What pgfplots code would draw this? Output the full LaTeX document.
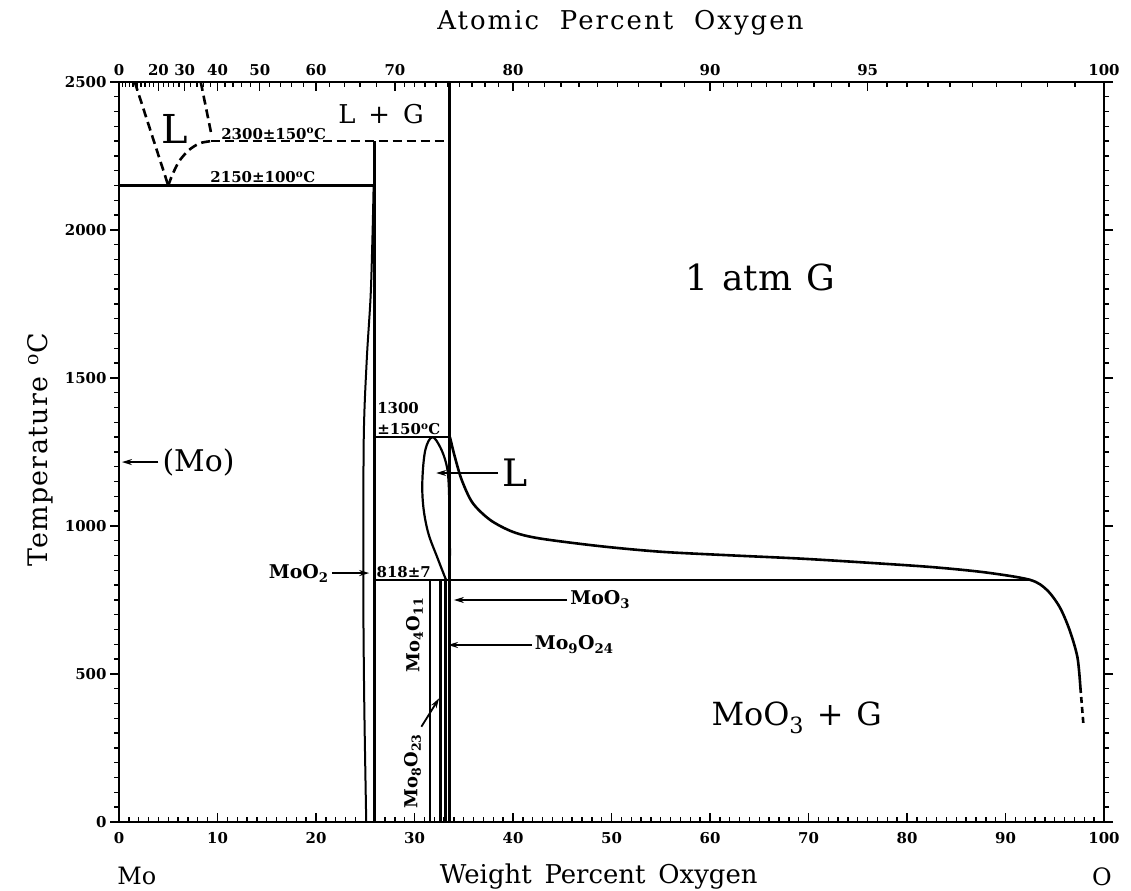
\documentclass[border=0pt]{standalone}
\usepackage{fontspec}
\setmainfont{DejaVu Serif}
\usepackage{pgfplots}
\pgfplotsset{compat=1.18}
\usetikzlibrary{arrows.meta}

\newcommand\fs[1]{\fontsize{#1}{#1}\selectfont}
\tikzset{arr/.style={-{Stealth[length=10bp,width=6bp]}, line width=1.8bp}}

\begin{document}
\begin{tikzpicture}
\pgfplotsset{
  every axis/.append style={
    scale only axis, width=985bp, height=740bp,
    xmin=0, xmax=100, ymin=0, ymax=2500,
    axis line style={line width=2.2bp},
    every tick/.style={black, line width=1.4bp},
    /pgf/number format/assume math mode=true,
    /pgf/number format/1000 sep={},
    clip=false,
  },
  ph/.style={black, line width=2.6bp, no markers},
  dsh/.style={dash pattern=on 9bp off 5bp},
}

% main axis: data, bottom ticks (weight percent)
\begin{axis}[
  xtick={0,10,...,100}, minor x tick num=9,
  xtick pos=left, ytick=\empty,
  tick align=inside,
  major tick length=9bp, minor tick length=5bp,
  xticklabel style={font=\fs{15}\bfseries, yshift=-7bp},
]
% Mo side
\addplot[ph] coordinates {(0,2150)(25.8,2150)};
\addplot[ph, dsh] coordinates {(1.6,2500)(5.0,2150)};
\addplot[ph, dsh, smooth] coordinates {(5.0,2150)(5.4,2185)(6.1,2232)(7.1,2270)(8.2,2293)(9.3,2300)};
\addplot[ph, dsh] coordinates {(8.3,2500)(9.4,2320)};
\addplot[ph, dsh] coordinates {(9.3,2300)(33.6,2300)};
% MoO2
\addplot[ph, line width=3bp] coordinates {(25.9,0)(25.9,2300)};
\addplot[ph, line width=2bp, smooth] coordinates {(25.1,0)(24.9,400)(24.8,800)(24.85,1300)(25.15,1560)(25.55,1780)(25.75,2000)(25.85,2150)};
% MoO3 and box
\addplot[ph, line width=3bp] coordinates {(33.6,0)(33.6,2500)};
\addplot[ph, line width=2bp] coordinates {(25.9,1300)(33.6,1300)};
\addplot[ph, line width=2.2bp] coordinates {(25.9,818)(92.5,818)};
% liquid loop
\addplot[ph, line width=2.2bp, smooth, tension=0.6] coordinates {
  (33.2,818)(32.3,895)(31.4,976)(30.9,1064)(30.8,1155)(31.1,1257)(31.8,1300)
  (32.6,1267)(33.2,1213)(33.45,1155)(33.55,1044)(33.6,900)};
% gas boundary
\addplot[ph, smooth, tension=0.5] coordinates {
  (33.6,1300)(34.1,1233)(34.8,1155)(35.9,1078)(37.7,1020)(40.0,980)(42.7,958)
  (48.8,932)(55,913)(62,901)(69.1,890)(76,876)(82.6,861)(88,843)(92.5,818)
  (94.2,784)(95.5,726)(96.5,649)(97.3,557)(97.6,456)};
\addplot[ph, dash pattern=on 6bp off 4bp] coordinates {(97.6,456)(97.9,334)};
% intermediate oxides
\addplot[ph, line width=2bp] coordinates {(31.6,0)(31.6,818)};
\addplot[ph, line width=3bp] coordinates {(32.6,0)(32.6,818)};
\addplot[ph, line width=3bp] coordinates {(33.1,0)(33.1,818)};

% labels
\node[font=\fs{40}] at (axis cs:5.7,2340) {L};
\node[font=\fs{26}] at (axis cs:26.6,2392) {L\hspace{0.5em}+\hspace{0.5em}G};
\node[font=\fs{15}\bfseries, anchor=south, inner sep=1bp] at (axis cs:15.7,2302) {2300±150\textsuperscript{o}C};
\node[font=\fs{15}\bfseries, anchor=south, inner sep=1bp] at (axis cs:14.6,2155) {2150±100\textsuperscript{o}C};
\node[font=\fs{36}] at (axis cs:65.1,1841) {1\hspace{0.4em}atm\hspace{0.4em}G};
\node[font=\fs{32}] at (axis cs:68.8,351) {MoO\textsubscript{3}\hspace{0.4em}+\hspace{0.4em}G};
\node[font=\fontsize{15}{21}\selectfont\bfseries, anchor=south west, align=left, inner sep=1bp] at (axis cs:26.1,1305) {1300\\±150\textsuperscript{o}C};
\node[font=\fs{15}\bfseries, anchor=south, inner sep=1bp] at (axis cs:28.9,822) {818±7};

\draw[arr] (axis cs:4.0,1216) -- (axis cs:0.3,1216);
\node[font=\fs{30}, anchor=west, inner sep=0pt] at (axis cs:4.4,1216) {(Mo)};
\draw[arr] (axis cs:21.6,841) -- (axis cs:25.4,841);
\node[font=\fs{19}\bfseries, anchor=east, inner sep=1bp] at (axis cs:21.4,841) {MoO\textsubscript{2}};
\draw[arr] (axis cs:38.5,1179) -- (axis cs:32.2,1179);
\node[font=\fs{38}, anchor=west, inner sep=0pt] at (axis cs:38.9,1180) {L};
\draw[arr] (axis cs:45.5,750) -- (axis cs:34.0,750);
\node[font=\fs{19}\bfseries, anchor=west, inner sep=1bp] at (axis cs:45.7,750) {MoO\textsubscript{3}};
\draw[arr] (axis cs:41.9,598) -- (axis cs:33.4,598);
\node[font=\fs{19}\bfseries, anchor=west, inner sep=1bp] at (axis cs:42.1,598) {Mo\textsubscript{9}O\textsubscript{24}};
\node[font=\fs{18}\bfseries, rotate=90] at (axis cs:30.0,632) {Mo\textsubscript{4}O\textsubscript{11}};
\node[font=\fs{18}\bfseries, rotate=90] at (axis cs:29.8,172) {Mo\textsubscript{8}O\textsubscript{23}};
\draw[arr] (axis cs:30.7,322) -- (axis cs:32.5,418);

% axis titles
\node[font=\fs{27}, rotate=90] at (rel axis cs:-0.080,0.503) {\addfontfeature{LetterSpace=5}Temperature\hspace{0.4em}\textsuperscript{o}C};
\node[font=\fs{26}] at (rel axis cs:0.487,-0.0735) {Weight\hspace{0.5em}Percent\hspace{0.5em}Oxygen};
\node[font=\fs{24}] at (rel axis cs:0.018,-0.0735) {Mo};
\node[font=\fs{24}] at (rel axis cs:0.998,-0.0735) {O};
\node[font=\fs{26}] at (rel axis cs:0.509,1.080) {\addfontfeature{LetterSpace=8}Atomic\hspace{0.8em}Percent\hspace{0.8em}Oxygen};
\end{axis}

% temperature ticks, both sides, outside
\begin{axis}[
  xtick=\empty,
  ytick={0,500,...,2500}, minor y tick num=9,
  ytick pos=both, yticklabel pos=left,
  tick align=outside,
  major tick length=9bp, minor tick length=5bp,
  yticklabel style={font=\fs{15}\bfseries},
]
\end{axis}

% atomic percent scale on top
\begin{axis}[
  x coord trafo/.code={\pgfmathparse{(16*#1)/(16*#1+95.95*(100-#1))*100}},
  xtick={0,10,20,30,40,50,60,70,80,90,95,100},
  xticklabels={0,,20,30,40,50,60,70,80,90,95,100},
  minor xtick={2,4,6,8,12,14,16,18,22,24,26,28,32,34,36,38,42,44,46,48,52,54,56,58,62,64,66,68,
    71,72,73,74,75,76,77,78,79,81,82,83,84,85,86,87,88,89,
    90.5,91,91.5,92,92.5,93,93.5,94,94.5,95.5,96,96.5,97,97.5,98,98.5,99,99.5},
  xtick pos=right, xticklabel pos=right,
  ytick=\empty,
  tick align=inside,
  major tick length=9bp, minor tick length=5bp,
  xticklabel style={font=\fs{15}\bfseries, yshift=3bp},
]
\end{axis}

\pgfresetboundingbox
\path[use as bounding box] (-119bp,-69bp) rectangle (1012bp,822bp);
\end{tikzpicture}
\end{document}
